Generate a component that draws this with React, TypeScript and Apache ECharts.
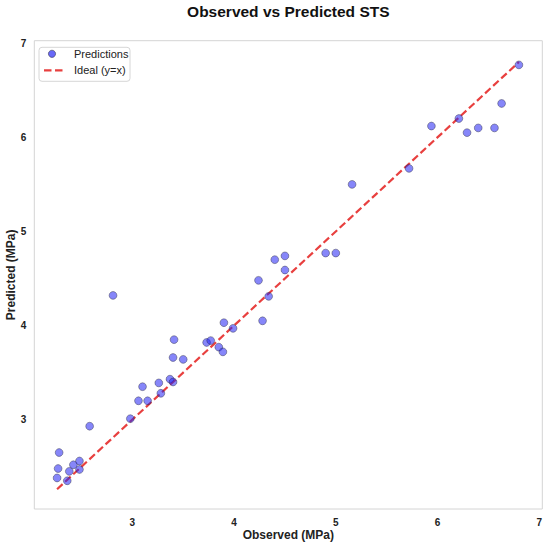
import React, { useEffect, useRef } from "react";
import * as echarts from "echarts";

const observed = [
  2.28, 2.27, 2.26, 2.36, 2.38, 2.42, 2.48, 2.48, 2.58, 2.81, 2.98, 3.06, 3.1, 3.15, 3.26,
  3.28, 3.37, 3.4, 3.4, 3.41, 3.5, 3.73, 3.77, 3.85, 3.89, 3.9, 3.99, 4.24, 4.28, 4.34,
  4.4, 4.5, 4.5, 4.9, 5.0, 5.16, 5.72, 5.94, 6.21, 6.29, 6.4, 6.56, 6.63, 6.8,
];
const predicted = [
  2.65, 2.48, 2.38, 2.35, 2.45, 2.52, 2.56, 2.47, 2.93, 4.32, 3.01, 3.2, 3.35, 3.2, 3.39,
  3.28, 3.43, 3.4, 3.66, 3.85, 3.64, 3.82, 3.84, 3.77, 3.72, 4.03, 3.97, 4.48, 4.05, 4.31,
  4.7, 4.74, 4.59, 4.77, 4.77, 5.5, 5.67, 6.12, 6.2, 6.05, 6.1, 6.1, 6.36, 6.77,
];
const tickValues = [3, 4, 5, 6, 7];
const xMin = 2.036;
const xMax = 7.03;
const yMin = 2.05;
const yMax = 7.027;

const FONT = "'Liberation Sans', Arial, sans-serif";

export default function App() {
  const ref = useRef<HTMLDivElement>(null);
  useEffect(() => {
    if (!ref.current) return;
    const chart = echarts.init(ref.current, null, { renderer: "svg" });
    const points = observed.map((o, i) => [o, predicted[i]]);
    const lo = Math.min(...observed, ...predicted);
    const hi = Math.max(...observed, ...predicted);
    const lineColor = "#e8403f";
    chart.setOption({
      animation: false,
      backgroundColor: "#ffffff",
      textStyle: { fontFamily: FONT },
      grid: {
        left: 34.3,
        top: 40.7,
        right: 7.7,
        bottom: 40,
        show: true,
        borderColor: "#d4d4d4",
        borderWidth: 1,
        backgroundColor: "transparent",
        containLabel: false,
        outerBoundsMode: "none",
      },
      xAxis: {
        type: "value",
        min: xMin,
        max: xMax,
        name: "Observed (MPa)",
        nameLocation: "middle",
        nameGap: 19.5,
        nameMoveOverlap: false,
        nameTextStyle: { fontFamily: FONT, fontSize: 12, fontWeight: "bold", color: "#222" },
        axisLine: { show: false },
        axisTick: { show: false },
        splitLine: { show: false },
        axisLabel: {
          customValues: tickValues,
          formatter: (v: number) => String(Math.round(v)),
          fontFamily: FONT,
          fontSize: 10,
          fontWeight: "bold",
          color: "#222",
          margin: 8.5,
        },
      },
      yAxis: {
        type: "value",
        min: yMin,
        max: yMax,
        name: "Predicted (MPa)",
        nameLocation: "middle",
        nameGap: 17,
        nameMoveOverlap: false,
        nameTextStyle: { fontFamily: FONT, fontSize: 12, fontWeight: "bold", color: "#222" },
        axisLine: { show: false },
        axisTick: { show: false },
        splitLine: { show: false },
        axisLabel: {
          customValues: tickValues,
          formatter: (v: number) => String(Math.round(v)),
          fontFamily: FONT,
          fontSize: 10,
          fontWeight: "bold",
          color: "#222",
          margin: 8,
        },
      },
      series: [
        {
          name: "Ideal (y=x)",
          type: "line",
          data: [
            [lo, lo],
            [hi, hi],
          ],
          showSymbol: false,
          symbol: "none",
          lineStyle: { color: lineColor, width: 2.2, type: [7.5, 3.5] },
          z: 2,
          silent: true,
        },
        {
          name: "Predictions",
          type: "scatter",
          data: points,
          symbolSize: 7.8,
          itemStyle: {
            color: "rgba(40,40,245,0.7)",
            borderColor: "rgba(40,40,60,0.75)",
            borderWidth: 0.7,
          },
          z: 3,
        },
      ],
      graphic: [
        {
          type: "text",
          x: 288.3,
          y: 11,
          style: {
            text: "Observed vs Predicted STS",
            font: `bold 15.5px ${FONT}`,
            fill: "#111",
            align: "center",
            verticalAlign: "middle",
          },
        },
        {
          type: "group",
          x: 39,
          y: 47.3,
          children: [
            {
              type: "rect",
              shape: { x: 0, y: 0, width: 91, height: 34, r: 3 },
              style: { fill: "rgba(255,255,255,0.85)", stroke: "#d6d6d6", lineWidth: 1 },
            },
            {
              type: "circle",
              shape: { cx: 13, cy: 6.5, r: 3.6 },
              style: { fill: "rgba(40,40,245,0.7)", stroke: "rgba(40,40,60,0.75)", lineWidth: 0.7 },
            },
            {
              type: "line",
              shape: { x1: 5, y1: 23, x2: 26, y2: 23 },
              style: { stroke: lineColor, lineWidth: 2.2, lineDash: [7.5, 3.5] },
            },
            {
              type: "text",
              x: 35,
              y: 6.5,
              style: {
                text: "Predictions",
                font: `11px ${FONT}`,
                fill: "#222",
                verticalAlign: "middle",
              },
            },
            {
              type: "text",
              x: 35,
              y: 23,
              style: {
                text: "Ideal (y=x)",
                font: `11px ${FONT}`,
                fill: "#222",
                verticalAlign: "middle",
              },
            },
          ],
        },
      ],
    });
    return () => chart.dispose();
  }, []);
  return (
    <div
      ref={ref}
      style={{ position: "absolute", left: 0, top: 0, width: 550, height: 549 }}
    />
  );
}
